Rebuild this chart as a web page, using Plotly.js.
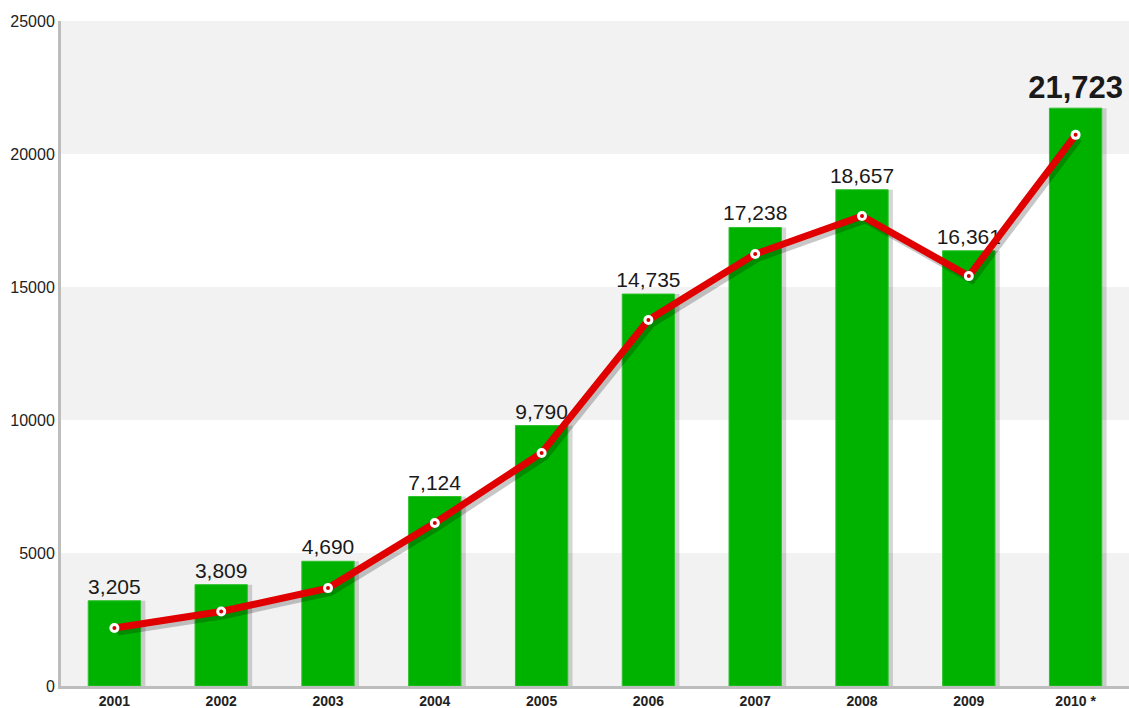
<!DOCTYPE html>
<html><head><meta charset="utf-8">
<script src="https://cdn.plot.ly/plotly-3.0.1.min.js"></script>
<style>html,body{margin:0;padding:0;background:#fff}#c{width:1129px;height:708px}</style>
</head><body><div id="c"></div>
<script>
const years = ["2001","2002","2003","2004","2005","2006","2007","2008","2009","2010 *"];
const barValues = [3205,3809,4690,7124,9790,14735,17238,18657,16361,21723];
const lineValues = [2180,2800,3680,6130,8760,13760,16240,17670,15410,20720];
const yTicks = [0,5000,10000,15000,20000,25000];

const idx = years.map((_, i) => i);
const labels = barValues.map((v, i) => {
  const s = v.toLocaleString('en-US');
  return i === barValues.length - 1 ? '<b>' + s + '</b>' : s;
});
const labelSizes = barValues.map((v, i) => i === barValues.length - 1 ? 31 : 21);

const W = 0.49;
const traces = [
  { type:'bar', x: idx, y: barValues, width: W, offset: -W/2 + 0.045,
    marker:{color:'rgba(0,0,0,0.16)'}, hoverinfo:'skip', xaxis:'x', yaxis:'y' },
  { type:'bar', x: idx, y: barValues, width: W,
    marker:{color:'#00b200', line:{color:'#2cc22c', width:1}},
    text: labels, textposition:'outside', cliponaxis:false, constraintext:'none',
    textfont:{family:'Liberation Sans, Arial, sans-serif', size: labelSizes, color:'#1a1a1a'},
    xaxis:'x', yaxis:'y' },
  { type:'scatter', mode:'lines', x: idx, y: lineValues,
    line:{color:'rgba(0,0,0,0.22)', width:7}, hoverinfo:'skip', xaxis:'x2', yaxis:'y2' },
  { type:'scatter', mode:'lines+markers', x: idx, y: lineValues,
    line:{color:'#e00000', width:7},
    marker:{color:'#ffffff', size:10, line:{width:0}}, xaxis:'x3', yaxis:'y3' },
  { type:'scatter', mode:'markers', x: idx, y: lineValues,
    marker:{color:'#d40000', size:4}, hoverinfo:'skip', xaxis:'x3', yaxis:'y3' }
];

const bands = [[0,5000],[10000,15000],[20000,25000]].map(b => ({
  type:'rect', xref:'paper', yref:'y', x0:0, x1:1, y0:b[0], y1:b[1],
  fillcolor:'#f2f2f2', line:{width:0}, layer:'below'
}));

const xr = [-0.5, 9.5], yr = [0, 25000];
const layout = {
  width:1129, height:708,
  margin:{l:61, r:0, t:21, b:22},
  paper_bgcolor:'#ffffff', plot_bgcolor:'rgba(0,0,0,0)',
  showlegend:false, barmode:'overlay',
  font:{family:'Liberation Sans, Arial, sans-serif', color:'#222'},
  shapes: bands,
  xaxis:{range:xr, tickvals: idx, ticktext: years.map(y => '<b>' + y + '</b>'),
    tickfont:{size:14, color:'#222'}, ticks:'', showgrid:false, zeroline:false,
    showline:true, linecolor:'#bdbdbd', linewidth:3, fixedrange:true},
  yaxis:{range:yr, tickvals: yTicks, ticktext: yTicks.map(String),
    tickfont:{size:16, color:'#222'}, ticks:'', showgrid:false, zeroline:false,
    showline:true, linecolor:'#bdbdbd', linewidth:3, fixedrange:true},
  xaxis2:{overlaying:'x', range:[xr[0]-0.03, xr[1]-0.03], visible:false, fixedrange:true},
  yaxis2:{overlaying:'y', range:[yr[0]+150, yr[1]+150], visible:false, fixedrange:true},
  xaxis3:{overlaying:'x', range:xr, visible:false, fixedrange:true},
  yaxis3:{overlaying:'y', range:yr, visible:false, fixedrange:true}
};
Plotly.newPlot('c', traces, layout, {displayModeBar:false, staticPlot:true});
</script></body></html>
